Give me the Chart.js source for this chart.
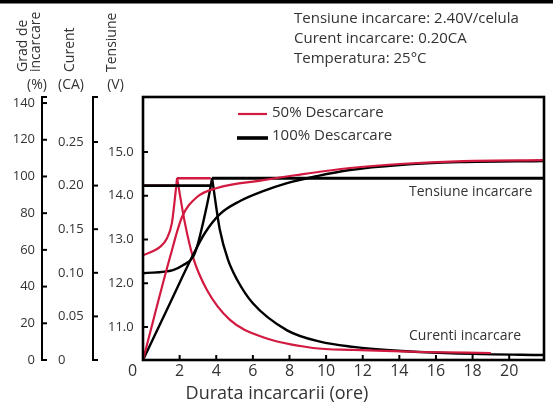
<!DOCTYPE html>
<html>
<head>
<meta charset="utf-8">
<script src="https://cdn.jsdelivr.net/npm/chart.js@4.4.0/dist/chart.umd.min.js"></script>
<style>
html, body { margin: 0; padding: 0; background: #fff; }
#wrap { width: 553px; height: 405px; }
</style>
</head>
<body>
<div id="wrap"><canvas id="myChart" width="553" height="405"></canvas></div>
<script>
// ---- date ----
// 50% descarcare
var t_tens50 = [0, 0.93, 1.31, 1.58, 1.75, 1.86];
var tens50 = [12.64, 12.83, 13.03, 13.38, 13.97, 14.4];
var t_curent50 = [1.86, 2.29, 2.73, 3.5, 4.75, 6.56, 9.29, 11.5, 15.1, 19];
var curent50 = [0.209, 0.157, 0.118, 0.08, 0.046, 0.026, 0.0138, 0.0115, 0.0092, 0.008];
var t_grad50 = [0, 1.5, 2.13, 2.95, 4.04, 6.56, 8.4, 11.3, 14.0, 17.5, 21.9];
var grad50 = [0, 56.9, 77.9, 88.8, 93.7, 98.0, 100.8, 104.6, 106.8, 108.4, 108.9];

// 100% descarcare
var t_tens100 = [0, 1.64, 2.18, 2.73, 2.95, 3.28, 3.66, 3.77];
var tens100 = [12.23, 12.30, 12.41, 12.6, 12.83, 13.38, 14.13, 14.4];
var t_curent100 = [3.77, 4.2, 4.64, 5.14, 6.0, 7.87, 9.67, 11.5, 13.3, 15.1, 18, 21.9];
var curent100 = [0.209, 0.149, 0.115, 0.092, 0.065, 0.034, 0.021, 0.015, 0.0115, 0.0092, 0.007, 0.0057];
var t_grad100 = [0, 1.5, 2.73, 3.38, 4.2, 5.3, 6.56, 7.87, 9.5, 11.3, 14.0, 17.3, 21.9];
var grad100 = [0, 31.5, 57.2, 69.2, 79.5, 86.6, 92.0, 96.4, 100.2, 103.5, 106.2, 107.8, 108.4];

// limite de incarcare (curent constant / tensiune constanta)
var t_cc50 = [0, 1.86], cc50 = [0.20, 0.20];
var t_cc100 = [0, 3.72], cc100 = [0.20, 0.20];
var t_cv50 = [1.86, 3.7], cv50 = [14.4, 14.4];
var t_cv100 = [3.77, 21.9], cv100 = [14.4, 14.4];

// gradatii
var tick_ore = [0, 2, 4, 6, 8, 10, 12, 14, 16, 18, 20];
var tick_tensiune = [11, 12, 13, 14, 15];
var tick_curent = [0, 0.05, 0.10, 0.15, 0.20, 0.25];
var tick_grad = [0, 20, 40, 60, 80, 100, 120, 140];

var rosu = '#d2193f';
var negru = '#000000';
var text = '#333333';

function puncte(xs, ys) {
	return xs.map(function(x, i) { return {x: x, y: ys[i]}; });
}

function serie(xs, ys, axa, culoare, latime, ordine) {
	return {
		data: puncte(xs, ys),
		yAxisID: axa,
		borderColor: culoare,
		borderWidth: latime,
		pointRadius: 0,
		fill: false,
		cubicInterpolationMode: 'monotone',
		order: ordine
	};
}

function setTicks(valori) {
	return function(scale) {
		scale.ticks = valori.map(function(v) { return {value: v}; });
	};
}

var noGrid = {display: false, drawTicks: false};

function linie(c, x1, y1, x2, y2) {
	c.beginPath();
	c.moveTo(x1, y1);
	c.lineTo(x2, y2);
	c.stroke();
}

function axaSeparata(c, scale, x) {
	linie(c, x, scale.top, x, scale.bottom);
	linie(c, x - 1, scale.top, x + 5, scale.top);
	scale.ticks.forEach(function(t) {
		var py = scale.getPixelForValue(t.value);
		linie(c, x - 1, py, x + 5, py);
	});
}

var decor = {
	id: 'decor',
	afterDraw: function(chart) {
		var c = chart.ctx, a = chart.chartArea, s = chart.scales;
		c.save();
		c.fillStyle = negru;
		c.fillRect(0, 0, chart.width, 3.5);

		c.strokeStyle = negru;
		c.lineWidth = 2.6;
		c.strokeRect(a.left, a.top, a.right - a.left, a.bottom - a.top);

		c.lineWidth = 2;
		s.x.ticks.forEach(function(t) {
			if (t.value === 0) return;
			var px = s.x.getPixelForValue(t.value);
			linie(c, px, a.bottom, px, a.bottom - 5);
		});
		s.v.ticks.forEach(function(t) {
			var py = s.v.getPixelForValue(t.value);
			linie(c, a.left, py, a.left + 5, py);
		});
		axaSeparata(c, s.c, s.c.right - 15);
		axaSeparata(c, s.p, s.p.right - 16);

		c.fillStyle = text;
		c.textAlign = 'left';
		c.textBaseline = 'alphabetic';
		c.font = '15px "Open Sans"';
		c.fillText('Tensiune incarcare: 2.40V/celula', 294, 23);
		c.fillText('Curent incarcare: 0.20CA', 294, 43);
		c.fillText('Temperatura: 25°C', 294, 62.5);

		// legenda
		c.fillText('50% Descarcare', 272, 116.5);
		c.fillText('100% Descarcare', 272, 140);
		c.strokeStyle = rosu;
		c.lineWidth = 2.2;
		linie(c, 238, 114, 267, 114);
		c.strokeStyle = negru;
		c.lineWidth = 3.6;
		linie(c, 237, 138, 268, 138);

		c.font = '14px "Open Sans"';
		c.fillText('Tensiune incarcare', 409, 196);
		c.fillText('Curenti incarcare', 409, 340);

		c.font = '18px "Open Sans"';
		c.textAlign = 'center';
		c.fillText('Durata incarcarii (ore)', 277, 399);

		// titluri axe
		c.font = '14px "Open Sans"';
		c.textBaseline = 'middle';
		c.fillText('(%)', 37, 85);
		c.fillText('(CA)', 71, 85);
		c.fillText('(V)', 115.5, 85);
		c.textAlign = 'left';
		c.textBaseline = 'alphabetic';
		[['Grad de', 27], ['incarcare', 39.5], ['Curent', 73.5], ['Tensiune', 115.5]].forEach(function(r) {
			c.save();
			c.translate(r[1], 72);
			c.rotate(-Math.PI / 2);
			c.fillText(r[0], 0, 0);
			c.restore();
		});
		c.restore();
	}
};

Chart.defaults.font.family = "'Open Sans', sans-serif";
Chart.defaults.color = text;

var ctx = document.getElementById('myChart');
var mychart = new Chart(ctx, {
	type: 'line',
	data: {
		datasets: [
			serie(t_grad50, grad50, 'p', rosu, 2.2, 1),
			serie(t_grad100, grad100, 'p', negru, 2.4, 3),
			serie(t_tens50, tens50, 'v', rosu, 2.2, 3),
			serie(t_cv50, cv50, 'v', rosu, 2.4, 3),
			serie(t_tens100, tens100, 'v', negru, 2.4, 3),
			serie(t_cv100, cv100, 'v', negru, 2.8, 2),
			serie(t_cc100, cc100, 'c', negru, 2.8, 1),
			serie(t_cc50, cc50, 'c', rosu, 2.2, 4),
			serie(t_curent50, curent50, 'c', rosu, 2.2, 3),
			serie(t_curent100, curent100, 'c', negru, 2.4, 3)
		]
	},
	options: {
		responsive: false,
		animation: false,
		layout: {padding: {top: 97, right: 9, left: 0, bottom: 0}},
		plugins: {
			legend: {display: false},
			tooltip: {enabled: false}
		},
		scales: {
			x: {
				type: 'linear',
				min: 0,
				max: 21.9,
				afterBuildTicks: setTicks(tick_ore),
				ticks: {
					padding: 2,
					font: {size: 16},
					maxRotation: 0,
					autoSkip: false,
					callback: function(v) { return v === 0 ? '0     ' : String(v); }
				},
				grid: noGrid,
				border: {display: false},
				afterFit: function(s) { s.height = 45; }
			},
			v: {
				position: 'left',
				weight: 0,
				min: 10.246,
				max: 16.257,
				afterBuildTicks: setTicks(tick_tensiune),
				ticks: {
					crossAlign: 'far',
					font: {size: 13},
					callback: function(v) { return v.toFixed(1); }
				},
				grid: noGrid,
				border: {display: false},
				afterFit: function(s) { s.width = 35; }
			},
			c: {
				position: 'left',
				weight: 1,
				min: 0,
				max: 0.3016,
				afterBuildTicks: setTicks(tick_curent),
				ticks: {
					crossAlign: 'far',
					font: {size: 13},
					callback: function(v) { return v === 0 ? '0' : v.toFixed(2); }
				},
				grid: noGrid,
				border: {display: false},
				afterFit: function(s) { s.width = 50; }
			},
			p: {
				position: 'left',
				weight: 2,
				min: 0,
				max: 143.3,
				afterBuildTicks: setTicks(tick_grad),
				ticks: {
					crossAlign: 'near',
					padding: 23,
					font: {size: 13}
				},
				grid: noGrid,
				border: {display: false},
				afterFit: function(s) { s.width = 58; }
			}
		}
	},
	plugins: [decor]
});
</script>
</body>
</html>
